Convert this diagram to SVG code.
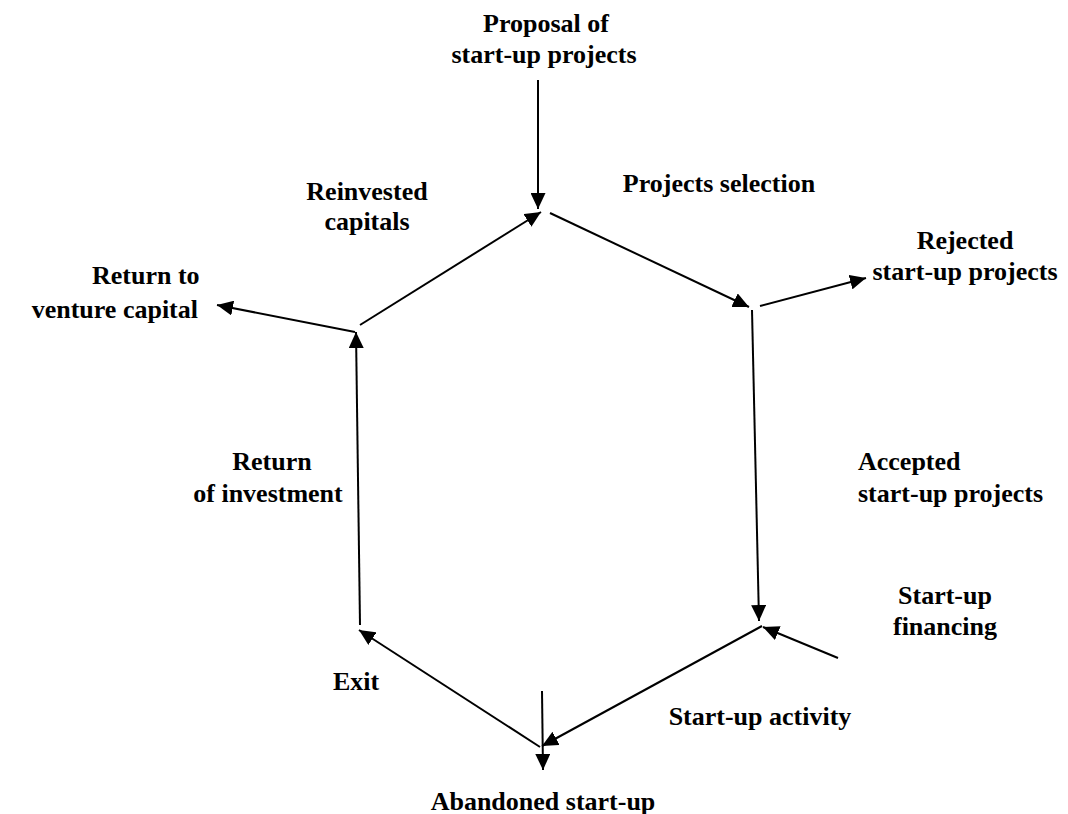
<svg xmlns="http://www.w3.org/2000/svg" width="1068" height="814" viewBox="0 0 1068 814">
<style>
text{font-family:"Liberation Serif","Times New Roman",serif;font-weight:bold;font-size:26px;fill:#000}
.c{text-anchor:middle}
.l{text-anchor:start}
.r{text-anchor:end}
#connectors line{stroke:#000;stroke-width:2;fill:none}
</style>
<defs>
<marker id="ah" markerUnits="userSpaceOnUse" markerWidth="17" markerHeight="15" refX="16" refY="7.5" orient="auto">
<path d="M0,0 L16,7.5 L0,15 Z" fill="#000"/>
</marker>
</defs>
<rect width="1068" height="814" fill="#fff"/>
<g id="connectors">
<line x1="538" y1="80" x2="538" y2="209" marker-end="url(#ah)"/>
<line x1="550" y1="213" x2="749" y2="307" marker-end="url(#ah)"/>
<line x1="760" y1="306" x2="866" y2="278" marker-end="url(#ah)"/>
<line x1="752" y1="310" x2="759" y2="621" marker-end="url(#ah)"/>
<line x1="838" y1="658" x2="763" y2="627" marker-end="url(#ah)"/>
<line x1="762" y1="626" x2="542" y2="746" marker-end="url(#ah)"/>
<line x1="542" y1="691" x2="543" y2="770" marker-end="url(#ah)"/>
<line x1="540" y1="747" x2="359" y2="630" marker-end="url(#ah)"/>
<line x1="360" y1="625" x2="356" y2="332" marker-end="url(#ah)"/>
<line x1="355" y1="332" x2="217" y2="305" marker-end="url(#ah)"/>
<line x1="360" y1="325" x2="541" y2="212" marker-end="url(#ah)"/>
</g>
<g id="proposal"><text class="c" x="546" y="32">Proposal of</text><text class="c" x="544" y="63">start-up projects</text></g>
<g id="selection"><text class="c" x="719" y="192">Projects selection</text></g>
<g id="reinvested"><text class="c" x="367" y="200">Reinvested</text><text class="c" x="367" y="230">capitals</text></g>
<g id="return-vc"><text class="l" x="92" y="284">Return to</text><text class="r" x="198" y="318">venture capital</text></g>
<g id="rejected"><text class="c" x="965" y="249">Rejected</text><text class="c" x="965" y="280">start-up projects</text></g>
<g id="accepted"><text class="l" x="858" y="470">Accepted</text><text class="l" x="858" y="502">start-up projects</text></g>
<g id="return-inv"><text class="c" x="272" y="470">Return</text><text class="c" x="268" y="502">of investment</text></g>
<g id="financing"><text class="c" x="945" y="604">Start-up</text><text class="c" x="945" y="635">financing</text></g>
<g id="exit"><text class="l" x="333" y="690">Exit</text></g>
<g id="activity"><text class="c" x="760" y="725">Start-up activity</text></g>
<g id="abandoned"><text class="c" x="543" y="810">Abandoned start-up</text></g>
</svg>
